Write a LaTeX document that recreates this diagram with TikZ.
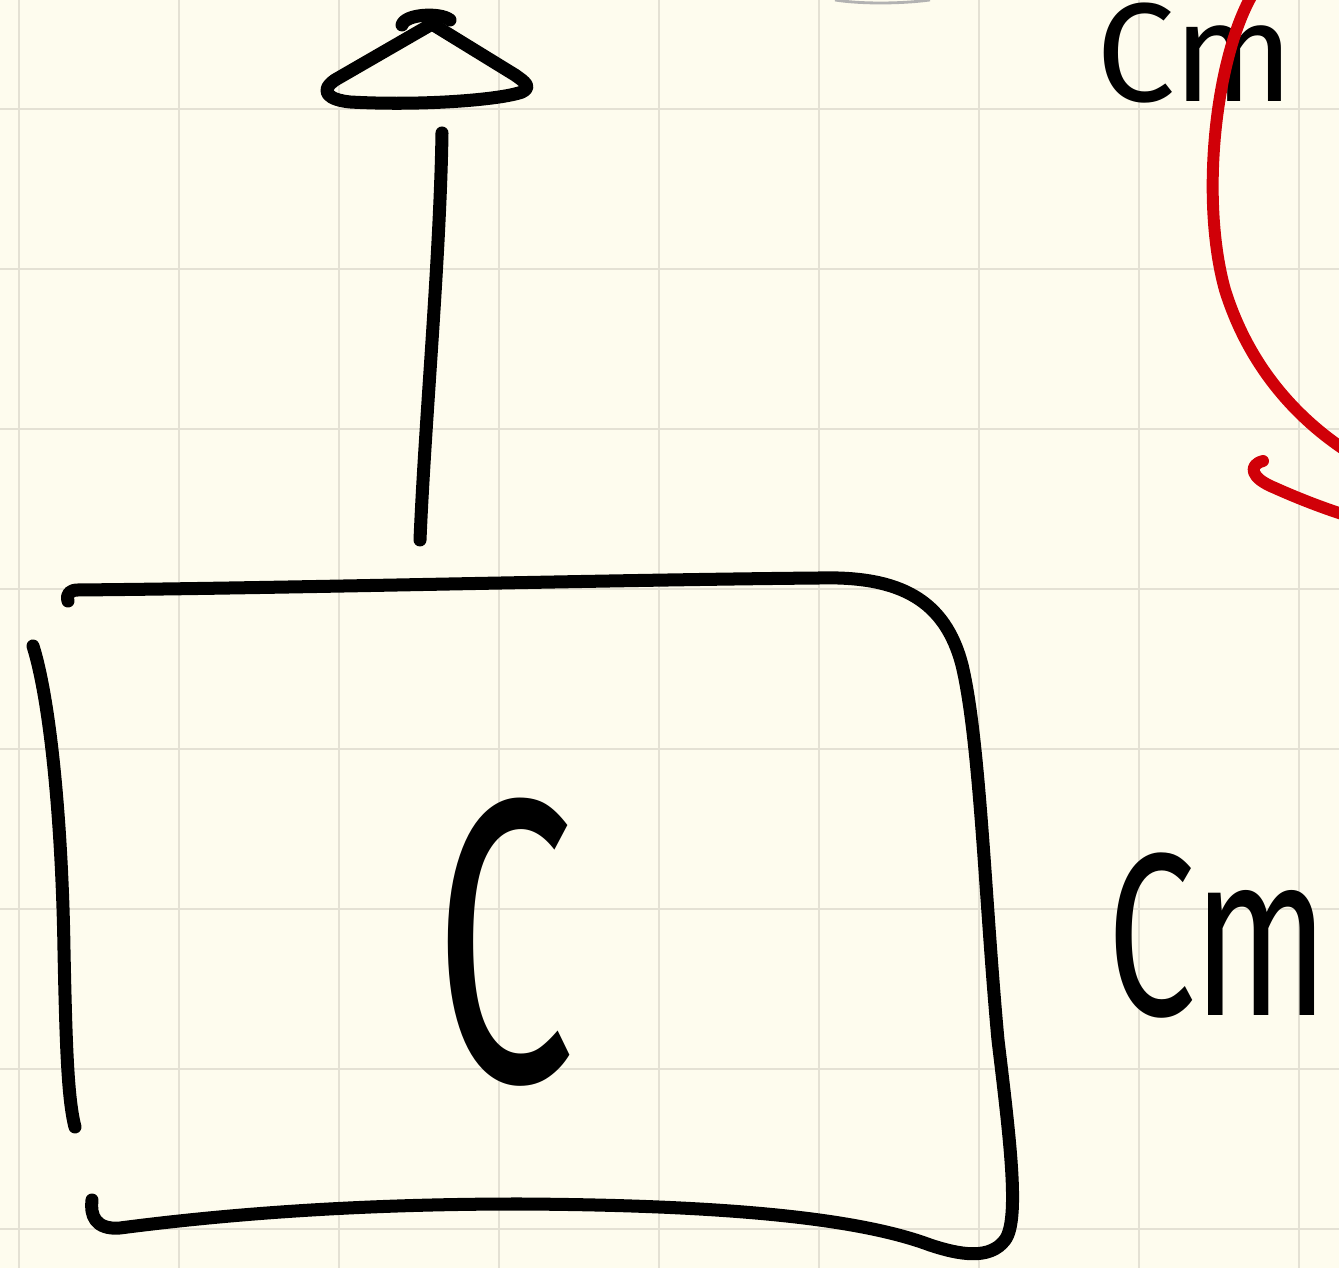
\documentclass[tikz,border=0pt]{standalone}
\usepackage{fontspec}
\newfontfamily\handfont{Fira Sans}
\definecolor{paper}{RGB}{254,252,238}
\definecolor{gridline}{RGB}{228,225,212}
\definecolor{redpen}{RGB}{208,0,8}

\begin{document}
\begin{tikzpicture}[x=0.01cm,y=-0.01cm,
  ink/.style={line width=3.7pt, line cap=round, line join=round, draw=black},
  redink/.style={line width=3.4pt, line cap=round, line join=round, draw=redpen},
  hand/.style={inner sep=0pt, font=\handfont}]
% paper and squared grid
\fill[paper] (0,0) rectangle (1339,1268);
\useasboundingbox (0,0) rectangle (1339,1268);
\clip (0,0) rectangle (1339,1268);
\foreach \gx in {19,179,...,1299} \draw[gridline, line width=0.8pt] (\gx,0) -- (\gx,1268);
\foreach \gy in {109,269,...,1229} \draw[gridline, line width=0.8pt] (0,\gy) -- (1339,\gy);

% faint edge of a shape above
\draw[gray!60, line width=0.8pt] (835,0) .. controls (860,4) and (900,4) .. (930,0);

% box: top, right and bottom in one stroke
\draw[ink] (68,601) .. controls (66,594) and (70,590) .. (78,590)
  .. controls (300,588) and (600,580) .. (820,578)
  .. controls (900,576) and (945,600) .. (962,665)
  .. controls (980,740) and (985,900) .. (998,1040)
  .. controls (1010,1140) and (1020,1220) .. (1005,1240)
  .. controls (990,1260) and (960,1255) .. (930,1245)
  .. controls (850,1215) and (700,1205) .. (520,1204)
  .. controls (350,1204) and (220,1215) .. (120,1228)
  .. controls (95,1230) and (90,1215) .. (92,1200);
% box: left side
\draw[ink] (33,646) .. controls (50,700) and (62,820) .. (64,950)
  .. controls (66,1050) and (68,1100) .. (75,1127);

% arrow shaft
\draw[ink] (420,540) .. controls (425,420) and (440,260) .. (442,133);
% arrow head
\draw[ink] (432,24) -- (335,80) .. controls (318,92) and (330,100) .. (350,102)
  .. controls (420,106) and (500,100) .. (522,92)
  .. controls (532,87) and (525,82) .. (515,75) -- cycle;
\draw[ink] (402,25) .. controls (405,14) and (440,12) .. (450,20);

% labels
\node[hand, anchor=base] (letterC) at (505,1082) {\fontsize{115}{115}\selectfont\scalebox{0.62}[1]{C}};
\node[hand, anchor=base] (labelR) at (1218,1016) {\fontsize{66}{66}\selectfont\scalebox{0.68}[1]{Cm}};
\node[hand, anchor=base] (labelT) at (1195,102) {\fontsize{40}{40}\selectfont\scalebox{1.0}[1]{Cm}};

% red stroke and hook
\draw[redink] (1252,-5) .. controls (1215,60) and (1200,200) .. (1225,290)
  .. controls (1250,370) and (1300,420) .. (1345,450);
\draw[redink] (1263,461) .. controls (1248,465) and (1250,478) .. (1275,488)
  .. controls (1295,497) and (1320,507) .. (1345,515);
\end{tikzpicture}
\end{document}
